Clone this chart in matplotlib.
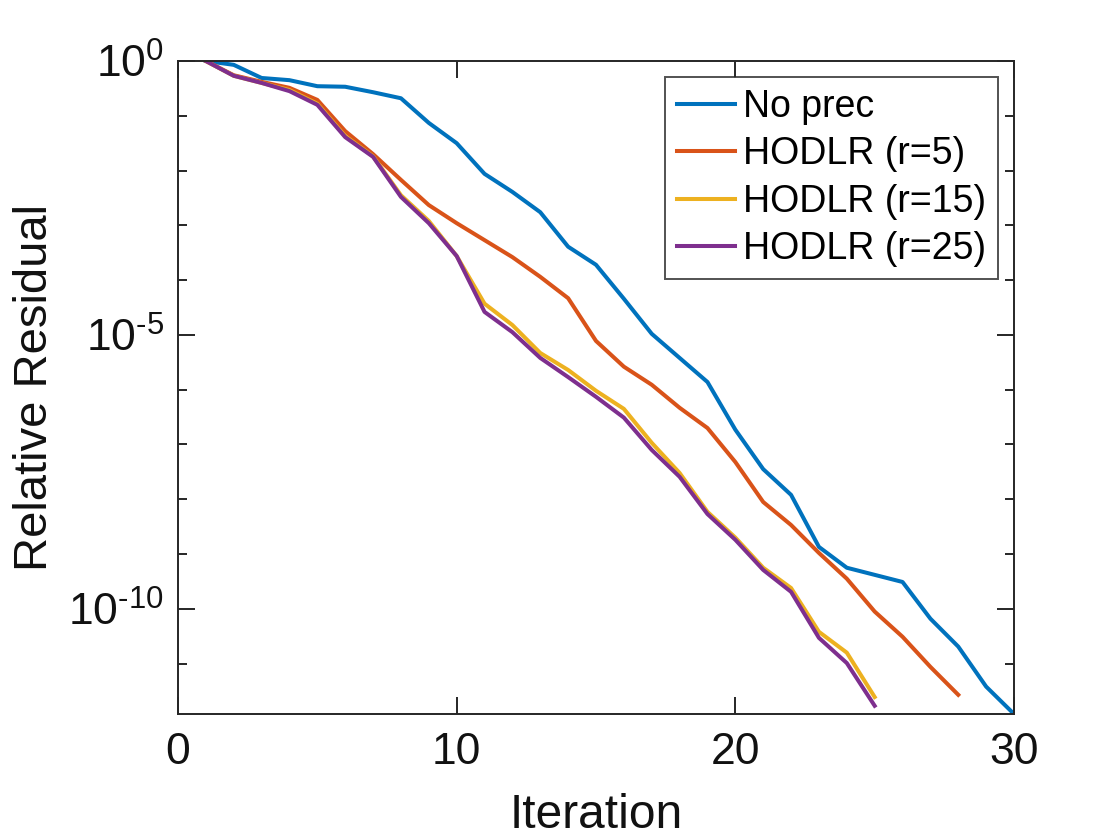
import numpy as np
import matplotlib
matplotlib.use("Agg")
import matplotlib.pyplot as plt
from matplotlib.ticker import FixedLocator, NullFormatter

plt.rcParams['font.family'] = ['Liberation Sans', 'DejaVu Sans']
plt.rcParams['mathtext.fontset'] = 'custom'
plt.rcParams['mathtext.rm'] = 'Liberation Sans'
plt.rcParams['mathtext.it'] = 'Liberation Sans:italic'
plt.rcParams['axes.unicode_minus'] = False

# log10 of relative residual per iteration
no_prec_log = [0.0, -0.07, -0.31, -0.35, -0.46, -0.47, -0.57, -0.68, -1.13, -1.50,
               -2.06, -2.39, -2.76, -3.39, -3.72, -4.34, -4.98, -5.42, -5.86, -6.73,
               -7.45, -7.92, -8.87, -9.25, -9.38, -9.51, -10.18, -10.69, -11.42, -11.92]
r5_log = [0.0, -0.26, -0.38, -0.49, -0.71, -1.28, -1.70, -2.17, -2.63, -2.96,
          -3.27, -3.58, -3.94, -4.33, -5.11, -5.58, -5.91, -6.33, -6.70, -7.32,
          -8.05, -8.47, -8.98, -9.45, -10.05, -10.51, -11.06, -11.57]
r15_log = [0.0, -0.27, -0.40, -0.53, -0.78, -1.37, -1.74, -2.45, -2.92, -3.56,
           -4.43, -4.82, -5.33, -5.64, -6.02, -6.35, -6.97, -7.52, -8.23, -8.70,
           -9.25, -9.62, -10.42, -10.80, -11.61]
r25_log = [0.0, -0.27, -0.40, -0.55, -0.80, -1.39, -1.75, -2.48, -2.96, -3.56,
           -4.58, -4.95, -5.42, -5.77, -6.13, -6.51, -7.10, -7.59, -8.27, -8.74,
           -9.29, -9.69, -10.53, -10.99, -11.77]

series = [
    ("No prec", no_prec_log, "#0072BD"),
    ("HODLR (r=5)", r5_log, "#D95319"),
    ("HODLR (r=15)", r15_log, "#EDB120"),
    ("HODLR (r=25)", r25_log, "#7E2F8E"),
]

fig = plt.figure(figsize=(11.2, 8.4), dpi=100)
ax = fig.add_axes([178 / 1120, 1 - 714 / 840, 836 / 1120, 653 / 840])

for label, vals, color in series:
    it = np.arange(1, len(vals) + 1)
    ax.semilogy(it, 10.0 ** np.array(vals), color=color, lw=2.9, label=label)

ax.set_xlim(0, 30)
ax.set_ylim(10 ** -11.92, 1)
ax.set_xticks([0, 10, 20, 30])
ax.set_yticks([1e-10, 1e-5, 1e0])
# short hyphen in the exponent, like the original
ax.set_yticklabels(['$\\mathregular{10^{\u2010' + '10}}$',
                    '$\\mathregular{10^{\u2010' + '5}}$',
                    r'$\mathregular{10^{0}}$'])
ax.yaxis.set_minor_locator(FixedLocator([10.0 ** k for k in range(-11, 0)]))
ax.yaxis.set_minor_formatter(NullFormatter())
ax.xaxis.set_minor_locator(FixedLocator([]))

edge = '#262626'
for sp in ax.spines.values():
    sp.set_color(edge)
    sp.set_linewidth(1.4)
ax.tick_params(which='both', direction='in', top=True, right=True, color=edge, width=1.4,
               labelsize=32, labelcolor='#111111')
ax.tick_params(axis='x', which='major', length=12, pad=13)
ax.tick_params(axis='y', which='major', length=12, pad=10)
ax.tick_params(axis='y', which='minor', length=6.5)

ax.set_xlabel('Iteration', fontsize=34.5, color='#111111', labelpad=14)
ax.set_ylabel('Relative Residual', fontsize=34, color='#111111', labelpad=8)

leg = ax.legend(loc='upper right', fontsize=27, frameon=True, fancybox=False,
                edgecolor=edge, borderaxespad=0.42, handlelength=1.55,
                handletextpad=0.2, labelspacing=0.3, borderpad=0.33)
leg.get_frame().set_linewidth(1.4)
for t in leg.get_texts():
    t.set_color('#000000')

fig.savefig('out.png', dpi=100)
